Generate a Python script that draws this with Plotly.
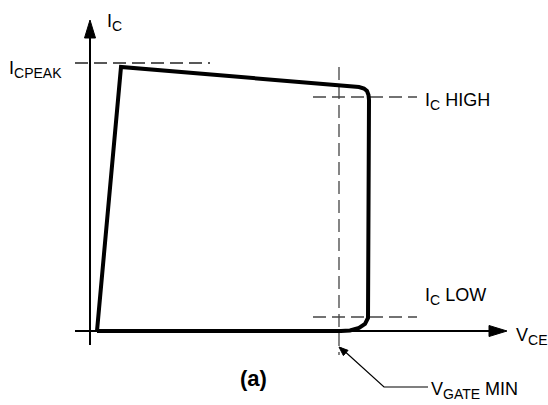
import plotly.graph_objects as go
import math

# Characteristic curve (V_CE, I_C) in arbitrary schematic units
curve_v = [7, 31, 269, 274, 277, 278.5, 279, 279, 278, 275, 269, 260, 251, 7]
curve_i = [0, 264, 244, 242.5, 240, 236, 231, 21, 13, 7, 3, 0.5, 0, 0]

# Reference levels
I_CPEAK = 268
I_C_HIGH = 234
I_C_LOW = 14
V_GATE_MIN = 249

# Axis extents
X_AXIS = [-15, 417]
Y_AXIS = [-14, 311]

fig = go.Figure()

def line(xs, ys, width=2, dash=None, color="black"):
    fig.add_trace(go.Scatter(x=xs, y=ys, mode="lines",
                             line=dict(color=color, width=width, dash=dash),
                             hoverinfo="skip", showlegend=False))

def head(tip, tail, length, half):
    dx, dy = tip[0] - tail[0], tip[1] - tail[1]
    d = math.hypot(dx, dy)
    ux, uy = dx / d, dy / d
    bx, by = tip[0] - ux * length, tip[1] - uy * length
    px, py = -uy, ux
    xs = [tip[0], bx + px * half, bx - px * half, tip[0]]
    ys = [tip[1], by + py * half, by - py * half, tip[1]]
    fig.add_trace(go.Scatter(x=xs, y=ys, mode="lines", fill="toself",
                             fillcolor="black", line=dict(color="black", width=1),
                             hoverinfo="skip", showlegend=False))

# axes
line([X_AXIS[0], X_AXIS[1] - 10], [0, 0], width=2)
head((X_AXIS[1], 0), (X_AXIS[0], 0), 18, 5.5)
line([0, 0], [Y_AXIS[0], Y_AXIS[1] - 10], width=2)
head((0, Y_AXIS[1]), (0, Y_AXIS[0]), 18, 5.5)

# dashed reference lines
dash = "13px,6px"
line([-15, 120], [I_CPEAK, I_CPEAK], width=1.3, dash=dash, color="#222")
line([V_GATE_MIN, V_GATE_MIN], [264, -24], width=1.3, dash=dash, color="#444")
line([223, 327], [I_C_HIGH, I_C_HIGH], width=1.3, dash=dash, color="#444")
line([223, 327], [I_C_LOW, I_C_LOW], width=1.3, dash=dash, color="#444")

# curve
line(curve_v, curve_i, width=4)

# V_GATE MIN leader
line([V_GATE_MIN + 2, 294, 338], [-17, -56, -56], width=1.2)
head((V_GATE_MIN, -16), (294, -56), 9, 3.5)

def sub(s):
    return '<sub><span style="font-size:14px">' + s + '</span></sub>'

font = dict(family="Liberation Sans, Arial, sans-serif", size=18, color="black")
labels = [
    ("I" + sub("C"), 15, 309),
    ("I" + sub("CPEAK"), -83, 262),
    ("I" + sub("C") + " HIGH", 333, 230),
    ("I" + sub("C") + " LOW", 333, 35),
    ("V" + sub("CE"), 424, -5),
    ("V" + sub("GATE") + " MIN", 339, -59),
]
for t, x, y in labels:
    fig.add_annotation(x=x, y=y, text=t, showarrow=False, xanchor="left",
                       yanchor="middle", font=font)
fig.add_annotation(x=163, y=-47, text="<b>(a)</b>", showarrow=False,
                   xanchor="center", yanchor="middle",
                   font=dict(family="Liberation Sans, Arial, sans-serif", size=22, color="black"))

fig.update_layout(
    width=548, height=405, margin=dict(l=0, r=0, t=0, b=0),
    paper_bgcolor="white", plot_bgcolor="white",
    xaxis=dict(range=[-90, 458], visible=False, fixedrange=True),
    yaxis=dict(range=[-74, 331], visible=False, fixedrange=True),
)
fig.write_html("out.html", config={"displayModeBar": False},
               post_script="document.body.style.margin='0';")
